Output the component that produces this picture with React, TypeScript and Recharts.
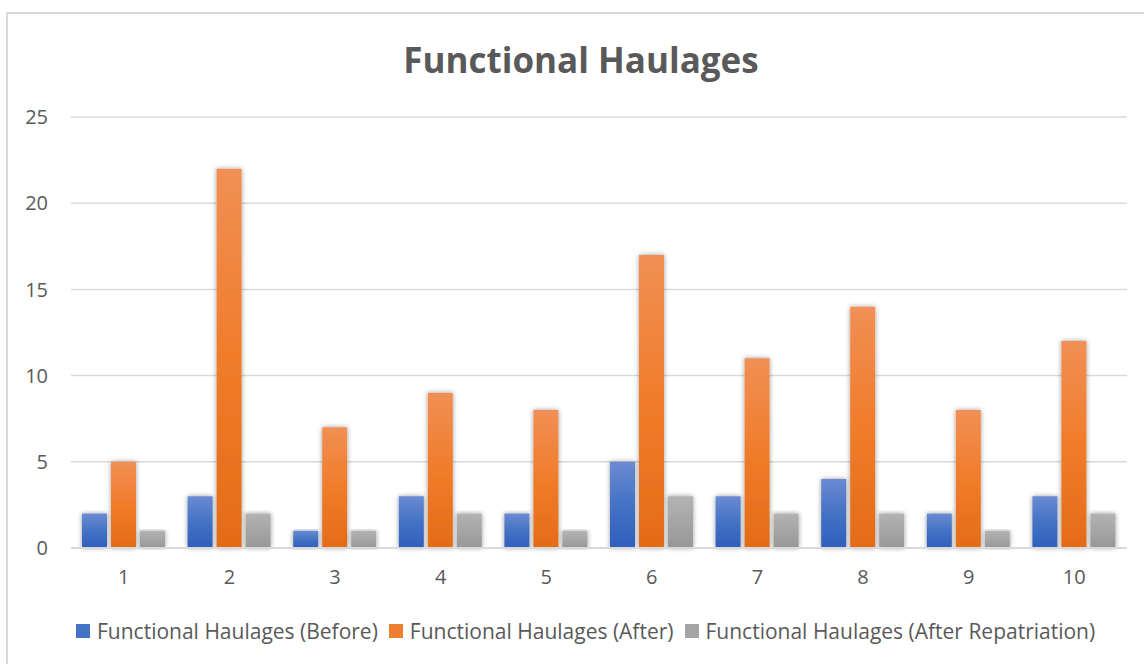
import { BarChart, Bar, XAxis, YAxis, CartesianGrid } from 'recharts'

const runs = ['1', '2', '3', '4', '5', '6', '7', '8', '9', '10']
const before = [2, 3, 1, 3, 2, 5, 3, 4, 2, 3]
const after = [5, 22, 7, 9, 8, 17, 11, 14, 8, 12]
const afterRepatriation = [1, 2, 1, 2, 1, 3, 2, 2, 1, 2]
const yTicks = [0, 5, 10, 15, 20, 25]

const series = [
  { key: 'before', name: 'Functional Haulages (Before)', grad: 'gBlue', swatch: '#4472c4' },
  { key: 'after', name: 'Functional Haulages (After)', grad: 'gOrange', swatch: '#ed7d31' },
  { key: 'afterRep', name: 'Functional Haulages (After Repatriation)', grad: 'gGray', swatch: '#a5a5a5' },
]

const data = runs.map((run, i) => ({
  run,
  before: before[i],
  after: after[i],
  afterRep: afterRepatriation[i],
}))

const FONT = '"Open Sans", "Noto Sans", sans-serif'
const TEXT = '#595959'

export default function App() {
  return (
    <div style={{ position: 'fixed', left: 0, top: 0, width: 1144, height: 664, overflow: 'hidden', background: '#fff', fontFamily: FONT }}>
      <div style={{ position: 'absolute', left: 0, top: 36, width: 1162, textAlign: 'center', fontSize: 35, fontWeight: 700, color: TEXT }}>
        Functional Haulages
      </div>
      <div style={{ position: 'absolute', left: 0, top: 0 }}>
        <BarChart width={1144} height={664} data={data} margin={{ top: 117, right: 17, left: 0, bottom: 86 }} barSize={25} barGap={4}>
          <defs>
            <linearGradient id="gBlue" x1="0" y1="0" x2="0" y2="1">
              <stop offset="0%" stopColor="#6a8bd3" />
              <stop offset="50%" stopColor="#4472c4" />
              <stop offset="100%" stopColor="#2f5fbd" />
            </linearGradient>
            <linearGradient id="gOrange" x1="0" y1="0" x2="0" y2="1">
              <stop offset="0%" stopColor="#f18f55" />
              <stop offset="50%" stopColor="#f07c2a" />
              <stop offset="100%" stopColor="#e46b18" />
            </linearGradient>
            <linearGradient id="gGray" x1="0" y1="0" x2="0" y2="1">
              <stop offset="0%" stopColor="#b3b3b3" />
              <stop offset="50%" stopColor="#a5a5a5" />
              <stop offset="100%" stopColor="#979797" />
            </linearGradient>
            <filter id="shadow" x="-30%" y="-10%" width="160%" height="120%">
              <feDropShadow dx="0" dy="0" stdDeviation="2.5" floodColor="#000" floodOpacity="0.4" />
            </filter>
          </defs>
          <CartesianGrid vertical={false} stroke="#d9d9d9" strokeWidth={1.5} />
          <XAxis
            dataKey="run"
            axisLine={{ stroke: '#d9d9d9', strokeWidth: 2 }}
            tickLine={false}
            tickSize={0}
            tickMargin={22}
            tick={{ fontSize: 20, fill: TEXT, fontFamily: FONT }}
          />
          <YAxis
            domain={[0, 25]}
            ticks={yTicks}
            axisLine={false}
            tickLine={false}
            tickSize={0}
            tickMargin={23}
            width={71}
            tick={{ fontSize: 20, fill: TEXT, fontFamily: FONT }}
          />
          {series.map((s) => (
            <Bar key={s.key} dataKey={s.key} name={s.name} fill={`url(#${s.grad})`} filter="url(#shadow)" isAnimationActive={false} />
          ))}
        </BarChart>
      </div>
      <div style={{ position: 'absolute', left: 76, top: 617, width: 1060, display: 'flex', gap: 11, fontSize: 21, color: TEXT, whiteSpace: 'nowrap' }}>
        {series.map((s) => (
          <div key={s.key} style={{ display: 'flex', alignItems: 'center' }}>
            <span style={{ display: 'inline-block', width: 14, height: 14, background: s.swatch, marginRight: 7 }} />
            {s.name}
          </div>
        ))}
      </div>
      <div style={{ position: 'absolute', left: 6, top: 12, width: 1200, height: 2, background: '#d9d9d9', zIndex: 2 }} />
      <div style={{ position: 'absolute', left: 6, top: 12, width: 2, height: 700, background: '#d9d9d9', zIndex: 2 }} />
    </div>
  )
}
